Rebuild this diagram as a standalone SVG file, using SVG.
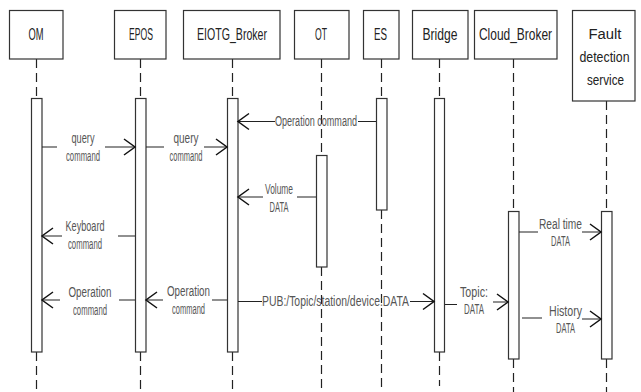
<svg xmlns="http://www.w3.org/2000/svg" width="641" height="392" viewBox="0 0 641 392">
<style>
.box{fill:#fff;stroke:#333;stroke-width:1.2}
.bar{fill:#fff;stroke:#333;stroke-width:1.2}
.life{stroke:#222;stroke-width:1.2;stroke-dasharray:9,5;fill:none}
.msg{stroke:#222;stroke-width:1.2;fill:none}
.head{stroke:#111;stroke-width:1.5;fill:none}
.nl{font-family:"Liberation Sans",Arial,sans-serif;font-size:16.5px;fill:#222;text-anchor:middle}
.fl{font-family:"Liberation Sans",Arial,sans-serif;font-size:15.5px;fill:#222;text-anchor:middle}
.ml{font-family:"Liberation Sans",Arial,sans-serif;font-size:14px;fill:#555;text-anchor:middle}
</style>
<rect width="641" height="392" fill="#fff"/>
<g id="lifelines">
<path class="life" d="M36.5,59V98M36.5,352V392"/>
<path class="life" d="M140.5,59V98M140.5,352V392"/>
<path class="life" d="M232.5,59V98M232.5,352V392"/>
<path class="life" d="M321.5,59V155M321.5,267V392"/>
<path class="life" d="M381.5,59V98M381.5,210V392"/>
<path class="life" d="M439.5,59V98M439.5,352V386"/>
<path class="life" d="M513.5,59V211M513.5,359V392"/>
<path class="life" d="M606.5,101V211M606.5,359V392"/>
</g>
<g id="OM"><rect class="box" x="9.5" y="10.5" width="53.5" height="48.5"/><text class="nl" x="36" y="40" textLength="15" lengthAdjust="spacingAndGlyphs">OM</text><rect class="bar" x="31.5" y="98.5" width="10.5" height="253.5"/></g>
<g id="EPOS"><rect class="box" x="114.5" y="10.5" width="51.5" height="48.5"/><text class="nl" x="141" y="40" textLength="24" lengthAdjust="spacingAndGlyphs">EPOS</text><rect class="bar" x="135.5" y="98.5" width="10.5" height="253.5"/></g>
<g id="EIOTG_Broker"><rect class="box" x="183.5" y="10.5" width="96.5" height="48.5"/><text class="nl" x="232" y="40" textLength="70" lengthAdjust="spacingAndGlyphs">EIOTG_Broker</text><rect class="bar" x="227.5" y="98.5" width="10.5" height="253.5"/></g>
<g id="OT"><rect class="box" x="294.5" y="10.5" width="54.5" height="48.5"/><text class="nl" x="321" y="40" textLength="12" lengthAdjust="spacingAndGlyphs">OT</text><rect class="bar" x="316.5" y="155.5" width="10.5" height="111.5"/></g>
<g id="ES"><rect class="box" x="363.5" y="10.5" width="35.5" height="48.5"/><text class="nl" x="380.5" y="40" textLength="13" lengthAdjust="spacingAndGlyphs">ES</text><rect class="bar" x="376.5" y="98.5" width="10.5" height="111.5"/></g>
<g id="Bridge"><rect class="box" x="412.5" y="10.5" width="55.5" height="48.5"/><text class="nl" x="440" y="40" textLength="35" lengthAdjust="spacingAndGlyphs">Bridge</text><rect class="bar" x="434.5" y="98.5" width="10" height="253.5"/></g>
<g id="Cloud_Broker"><rect class="box" x="474.5" y="10.5" width="82.5" height="48.5"/><text class="nl" x="515.5" y="40" textLength="73" lengthAdjust="spacingAndGlyphs">Cloud_Broker</text><rect class="bar" x="508.5" y="211.5" width="10.5" height="147.5"/></g>
<g id="Fault_detection_service"><rect class="box" x="572.5" y="10.5" width="62.5" height="90.5"/><text class="fl" x="605" y="39" textLength="33" lengthAdjust="spacingAndGlyphs">Fault</text><text class="fl" x="604.5" y="62" textLength="50" lengthAdjust="spacingAndGlyphs">detection</text><text class="fl" x="605.5" y="85" textLength="37" lengthAdjust="spacingAndGlyphs">service</text><rect class="bar" x="601.5" y="211.5" width="10.5" height="147.5"/></g>
<g id="connectors">
<path class="msg" d="M42,147H57M105,147H135"/><path class="head" d="M124,139L135,147L124,155"/>
<text class="ml" x="83" y="143" textLength="23" lengthAdjust="spacingAndGlyphs">query</text><text class="ml" x="83" y="161" textLength="34" lengthAdjust="spacingAndGlyphs">command</text>
<path class="msg" d="M146,147H164M204,147H227"/><path class="head" d="M216,139L227,147L216,155"/>
<text class="ml" x="186" y="143" textLength="25" lengthAdjust="spacingAndGlyphs">query</text><text class="ml" x="186" y="161" textLength="33" lengthAdjust="spacingAndGlyphs">command</text>
<path class="msg" d="M238,121.5H275M358,121.5H376"/><path class="head" d="M249,113.5L238,121.5L249,129.5"/>
<text class="ml" x="316" y="126" textLength="82" lengthAdjust="spacingAndGlyphs">Operation command</text>
<path class="msg" d="M238,197H263M297,197H316"/><path class="head" d="M249,189L238,197L249,205"/>
<text class="ml" x="279" y="194" textLength="28" lengthAdjust="spacingAndGlyphs">Volume</text><text class="ml" x="279" y="212" textLength="19" lengthAdjust="spacingAndGlyphs">DATA</text>
<path class="msg" d="M42,236H62M118,236H135"/><path class="head" d="M53,228L42,236L53,244"/>
<text class="ml" x="85" y="231" textLength="39" lengthAdjust="spacingAndGlyphs">Keyboard</text><text class="ml" x="85" y="249" textLength="34" lengthAdjust="spacingAndGlyphs">command</text>
<path class="msg" d="M42,300H60M119,300H135"/><path class="head" d="M53,292L42,300L53,308"/>
<text class="ml" x="90" y="297" textLength="43" lengthAdjust="spacingAndGlyphs">Operation</text><text class="ml" x="90" y="315" textLength="34" lengthAdjust="spacingAndGlyphs">command</text>
<path class="msg" d="M146,300H163M212,300H227"/><path class="head" d="M157,292L146,300L157,308"/>
<text class="ml" x="188.5" y="296" textLength="43" lengthAdjust="spacingAndGlyphs">Operation</text><text class="ml" x="188.5" y="314" textLength="33" lengthAdjust="spacingAndGlyphs">command</text>
<path class="msg" d="M238,301.5H262M410,301.5H434"/><path class="head" d="M423,293.5L434,301.5L423,309.5"/>
<text class="ml" x="335.5" y="306" textLength="147" lengthAdjust="spacingAndGlyphs">PUB:/Topic/station/device:DATA</text>
<path class="msg" d="M445,304.5H457M493,302H508"/><path class="head" d="M497,294L508,302L497,310"/>
<text class="ml" x="474" y="297" textLength="28" lengthAdjust="spacingAndGlyphs">Topic:</text><text class="ml" x="474" y="314" textLength="20" lengthAdjust="spacingAndGlyphs">DATA</text>
<path class="msg" d="M519,232H538M582,232H601"/><path class="head" d="M590,224L601,232L590,240"/>
<text class="ml" x="560.5" y="229" textLength="43" lengthAdjust="spacingAndGlyphs">Real time</text><text class="ml" x="560.5" y="246" textLength="19" lengthAdjust="spacingAndGlyphs">DATA</text>
<path class="msg" d="M522,318H542M582,319H601"/><path class="head" d="M590,311L601,319L590,327"/>
<text class="ml" x="565.5" y="316" textLength="33" lengthAdjust="spacingAndGlyphs">History</text><text class="ml" x="565.5" y="333" textLength="19" lengthAdjust="spacingAndGlyphs">DATA</text>
</g>
</svg>
